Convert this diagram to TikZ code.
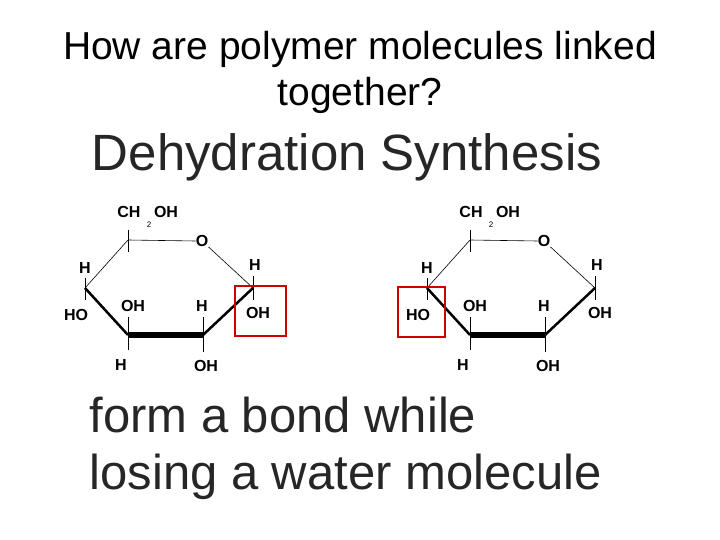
\documentclass[tikz,border=0pt]{standalone}
\usepackage{fontspec}
\setmainfont{Liberation Sans}
\begin{document}
\begin{tikzpicture}[x=1pt,y=-1pt,
  lbl/.style={font=\fontsize{16}{16}\selectfont\bfseries, inner sep=0pt},
  sub/.style={font=\fontsize{8}{8}\selectfont, inner sep=0pt},
  thin/.style={line width=0.6pt},
  redbox/.style={draw=red!80!black, line width=1.8pt}]
\useasboundingbox (0,0) rectangle (720,540);
\node (title) at (360,72) [align=center, font=\fontsize{39}{46}\selectfont] {How are polymer molecules linked\\together?};
\node (dehyd) at (347,157) [font=\fontsize{51}{51}\selectfont, text=black!85] {Dehydration Synthesis};
\node (form) at (86,448) [anchor=west, align=left, font=\fontsize{49}{57}\selectfont, text=black!85] {form a bond while\\losing a water molecule};
\foreach \dx/\n in {0/a,342/b}{
\begin{scope}[xshift=\dx]
 \coordinate (\n c5) at (128,240);
 \coordinate (\n c1) at (253,288);
 \coordinate (\n c4) at (85,288);
 \coordinate (\n c3) at (128,335);
 \coordinate (\n c2) at (203,335);
 \node[lbl] (\n o) at (202,241) {O};
 \node[lbl] (\n ch) at (129,212) {CH};
 \node[sub] (\n two) at (149,225) {2};
 \node[lbl] (\n oh6) at (166,212) {OH};
 \node[lbl] (\n h4) at (85,268) {H};
 \node[lbl] (\n ho4) at (76,315) {HO};
 \node[lbl] (\n oh3) at (133,306) {OH};
 \node[lbl] (\n h3) at (121,365) {H};
 \node[lbl] (\n h2) at (202,306) {H};
 \node[lbl] (\n oh2) at (206,366) {OH};
 \node[lbl] (\n h1) at (255,265) {H};
 \node[lbl] (\n oh1) at (258,313) {OH};
 \draw[thin] (\n c5) -- (\n o.west);
 \draw[thin] (\n o.south east) -- (\n c1);
 \draw[thin] (\n c5) -- (\n c4);
 \draw[line width=2.5pt] (\n c4) -- (\n c3);
 \draw[line width=6pt] (\n c3) -- (\n c2);
 \draw[line width=2.5pt] (\n c2) -- (\n c1);
 \draw[thin] (128,230) -- (128,252);
 \draw[thin] (85,278) -- (85,300);
 \draw[thin] (128,317) -- (128,350);
 \draw[thin] (203,317) -- (203,352);
 \draw[thin] (253,276) -- (253,300);
\end{scope}}
\draw[redbox] (235,286) rectangle (286,336);
\draw[redbox] (398,287) rectangle (445,337);
\end{tikzpicture}
\end{document}
